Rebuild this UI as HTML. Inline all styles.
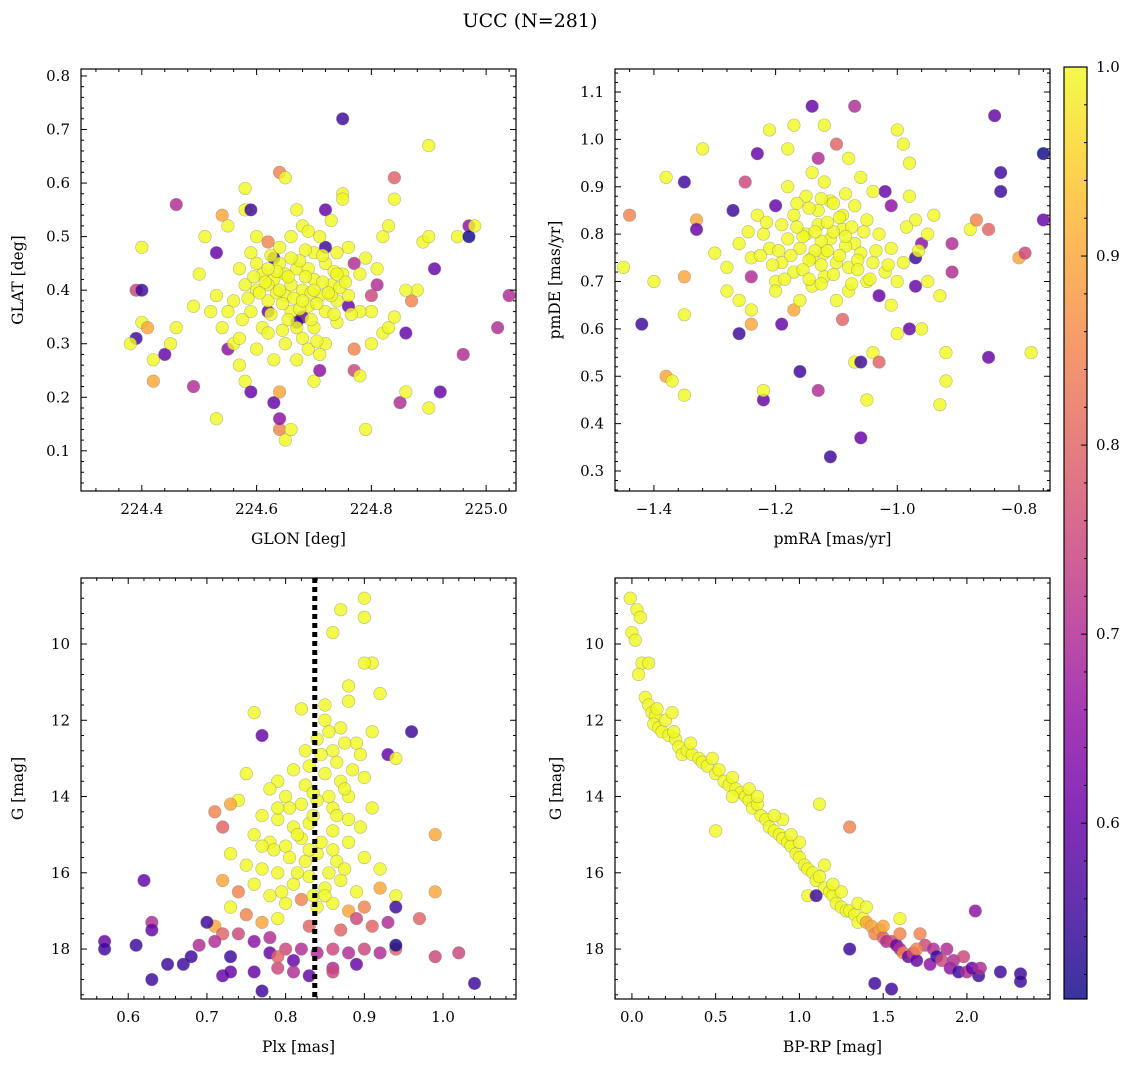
<!DOCTYPE html>
<html><head><meta charset="utf-8">
<style>
html,body{margin:0;padding:0;background:#fff;}
svg{display:block;font-family:"DejaVu Serif","Liberation Serif",serif;}
</style></head>
<body>
<svg id="chart" width="1136" height="1067" viewBox="0 0 1136 1067" xmlns="http://www.w3.org/2000/svg">
<text x="530" y="27" font-size="19" text-anchor="middle">UCC (N=281)</text>
</svg>
<script>
// ---- Panel 1: GLON vs GLAT ----
const glon = [224.75,224.90,224.40,224.39,224.40,224.39,224.38,224.40,224.41,224.42,224.42,224.44,224.45,224.46,224.46,224.49,224.50,224.51,224.49,224.53,224.53,224.54,224.55,224.55,224.56,224.57,224.58,224.59,224.58,224.58,224.59,224.60,224.62,224.63,224.64,224.64,224.65,224.66,224.64,224.65,224.67,224.64,224.70,224.71,224.72,224.73,224.75,224.75,224.77,224.77,224.78,224.79,224.80,224.82,224.83,224.84,224.84,224.85,224.86,224.86,224.87,224.88,224.89,224.90,224.91,224.92,224.90,224.95,224.97,224.97,224.98,225.02,225.04,224.96,224.80,224.81,224.76,224.77,224.72,224.68,224.62,224.63,224.67,
224.60,224.61,224.62,224.63,224.64,224.65,224.66,224.67,224.68,224.69,224.70,224.71,224.72,224.73,224.74,224.75,224.66,224.67,224.68,224.70,224.72,224.74,224.76,224.78,224.61,224.59,224.58,224.57,224.56,224.55,224.54,224.52,224.53,224.64,224.66,224.68,224.70,224.72,224.74,224.76,224.78,224.79,224.81,224.82,224.83,224.80,224.84,224.86,224.65,224.63,224.67,224.69,224.71,224.62,224.60,224.69,224.71,224.73,224.65,224.62,
224.605,224.615,224.625,224.635,224.645,224.655,224.665,224.675,224.685,224.695,224.705,224.715,224.725,224.735,224.745,224.655,224.675,224.695,224.715,224.735,224.595,224.585,224.575,224.625,224.645,224.685,224.705,224.755,224.765,224.635,224.66,224.68,224.70,224.64,224.62,224.74,224.57,224.60,224.59,224.69];
const glat = [0.72,0.67,0.48,0.40,0.40,0.31,0.30,0.34,0.33,0.27,0.23,0.28,0.30,0.33,0.56,0.22,0.43,0.50,0.37,0.16,0.47,0.54,0.52,0.29,0.30,0.26,0.23,0.21,0.55,0.59,0.55,0.50,0.49,0.19,0.14,0.16,0.12,0.14,0.62,0.61,0.55,0.21,0.23,0.25,0.55,0.53,0.58,0.57,0.29,0.25,0.24,0.14,0.36,0.32,0.33,0.61,0.57,0.19,0.32,0.21,0.38,0.40,0.49,0.18,0.44,0.21,0.50,0.50,0.52,0.50,0.52,0.33,0.39,0.28,0.39,0.41,0.37,0.45,0.48,0.35,0.36,0.46,0.34,
0.40,0.43,0.38,0.42,0.45,0.39,0.41,0.44,0.40,0.37,0.42,0.39,0.36,0.41,0.38,0.43,0.36,0.33,0.31,0.33,0.30,0.34,0.39,0.36,0.33,0.36,0.41,0.44,0.38,0.36,0.33,0.36,0.39,0.48,0.50,0.52,0.47,0.45,0.47,0.48,0.43,0.46,0.44,0.50,0.52,0.30,0.35,0.40,0.30,0.27,0.27,0.29,0.28,0.32,0.45,0.44,0.50,0.39,0.43,0.41,
0.395,0.415,0.355,0.395,0.375,0.425,0.385,0.365,0.425,0.395,0.375,0.415,0.395,0.355,0.405,0.345,0.455,0.345,0.465,0.435,0.425,0.385,0.345,0.465,0.325,0.475,0.305,0.415,0.355,0.435,0.46,0.38,0.40,0.40,0.44,0.43,0.31,0.29,0.47,0.51];
const prob1 = [0.55,1,1,0.75,0.55,0.55,1,1,0.9,1,0.9,0.6,1,1,0.7,0.7,1,1,1,1,0.6,0.9,1,0.65,1,1,1,0.6,1,1,0.55,1,0.85,0.6,0.85,0.65,1,1,0.85,1,1,0.9,1,0.65,0.6,1,1,1,0.85,0.75,1,1,1,1,1,0.8,1,0.7,0.6,1,0.85,1,1,1,0.6,0.6,1,1,0.65,0.5,1,0.7,0.7,0.7,0.75,0.7,0.6,0.7,0.55,0.6,0.6,0.55,0.55,
1,1,1,1,1,1,1,1,1,1,1,1,1,1,1,1,1,1,1,1,1,1,1,1,1,1,1,1,1,1,1,1,1,1,1,1,1,1,1,1,1,1,1,1,1,1,1,1,1,1,1,1,1,1,1,1,1,1,1,1,
1,1,1,1,1,1,1,1,1,1,1,1,1,1,1,1,1,1,1,1,1,1,1,1,1,1,1,1,1,1,1,1,1,1,1,1,1,1,1,1];

// ---- Panel 2: pmRA vs pmDE ----
const pmra = [-1.45,-1.44,-1.42,-1.40,-1.38,-1.38,-1.37,-1.35,-1.35,-1.35,-1.35,-1.33,-1.33,-1.32,-1.28,-1.27,-1.26,-1.25,-1.24,-1.24,-1.24,-1.23,-1.22,-1.22,-1.21,-1.20,-1.19,-1.18,-1.17,-1.16,-1.14,-1.13,-1.13,-1.12,-1.11,-1.10,-1.08,-1.07,-1.06,-1.07,-1.06,-1.05,-1.04,-1.03,-1.02,-1.00,-0.99,-0.98,-0.98,-0.97,-0.97,-0.96,-0.93,-0.92,-0.92,-0.91,-0.91,-0.88,-0.87,-0.85,-0.85,-0.84,-0.83,-0.83,-0.80,-0.79,-0.78,-0.76,-0.76,-1.03,-1.09,-1.00,-0.96,-1.17,-1.20,-1.01,
-1.15,-1.13,-1.11,-1.09,-1.07,-1.12,-1.14,-1.16,-1.18,-1.10,-1.08,-1.06,-1.04,-1.02,-1.05,-1.12,-1.14,-1.17,-1.19,-1.21,-1.13,-1.11,-1.09,-1.15,-1.17,-1.19,-1.22,-1.07,-1.05,-1.03,-1.01,-0.99,-1.00,-1.10,-1.08,-1.16,-1.20,-1.24,-1.26,-1.23,-1.04,-1.06,-1.12,-1.14,-0.97,-0.95,-0.98,-1.28,-1.26,-1.30,-1.18,-0.95,-0.93,-0.94,-1.01,
-1.125,-1.105,-1.085,-1.135,-1.155,-1.115,-1.095,-1.075,-1.145,-1.165,-1.125,-1.105,-1.085,-1.065,-1.145,-1.175,-1.195,-1.135,-1.115,-1.095,-1.055,-1.035,-1.155,-1.125,-1.185,-1.205,-1.105,-1.085,-1.125,-1.065,-1.045,-1.015,-1.225,-1.165,-1.145,-1.075,-1.215,-1.245,-0.965,-0.985];
const pmde = [0.73,0.84,0.61,0.70,0.92,0.50,0.49,0.91,0.46,0.63,0.71,0.83,0.81,0.98,0.73,0.85,0.59,0.91,0.71,0.64,0.61,0.97,0.45,0.47,1.02,0.86,0.61,0.98,1.03,0.51,1.07,0.96,0.47,1.03,0.33,0.99,0.96,1.07,0.37,0.53,0.53,0.45,0.55,0.67,0.89,1.02,0.99,0.95,0.60,0.69,0.75,0.78,0.44,0.49,0.55,0.72,0.78,0.81,0.83,0.81,0.54,1.05,0.93,0.89,0.75,0.76,0.55,0.97,0.83,0.53,0.62,0.59,0.60,0.64,0.70,0.86,
0.80,0.82,0.79,0.81,0.78,0.76,0.75,0.77,0.79,0.74,0.73,0.76,0.74,0.72,0.70,0.71,0.69,0.72,0.74,0.77,0.85,0.87,0.84,0.88,0.84,0.82,0.80,0.86,0.83,0.80,0.77,0.74,0.70,0.66,0.68,0.66,0.68,0.75,0.78,0.84,0.89,0.92,0.91,0.93,0.83,0.80,0.88,0.68,0.66,0.76,0.90,0.70,0.67,0.84,0.65,
0.785,0.805,0.775,0.765,0.795,0.825,0.755,0.815,0.745,0.815,0.735,0.715,0.795,0.745,0.855,0.755,0.765,0.805,0.765,0.835,0.805,0.765,0.725,0.695,0.705,0.735,0.865,0.885,0.875,0.725,0.705,0.735,0.755,0.865,0.705,0.695,0.825,0.805,0.765,0.815];
const prob2 = [1,0.85,0.55,1,1,0.9,1,0.55,1,1,0.9,0.9,0.6,1,1,0.55,0.55,0.75,0.7,1,0.9,0.6,0.6,1,1,0.6,0.6,1,1,0.55,0.6,0.7,0.7,1,0.55,0.8,1,0.7,0.6,1,0.55,1,1,0.6,0.6,1,1,1,0.6,0.6,0.55,0.65,1,1,1,0.7,0.7,1,0.85,0.8,0.6,0.6,0.55,0.55,0.9,0.75,1,0.5,0.6,0.8,0.8,1,1,0.9,1,0.65,
1,1,1,1,1,1,1,1,1,1,1,1,1,1,1,1,1,1,1,1,1,1,1,1,1,1,1,1,1,1,1,1,1,1,1,1,1,1,1,1,1,1,1,1,1,1,1,1,1,1,1,1,1,1,1,
1,1,1,1,1,1,1,1,1,1,1,1,1,1,1,1,1,1,1,1,1,1,1,1,1,1,1,1,1,1,1,1,1,1,1,1,1,1,1,1];

// ---- Panel 3: Plx vs G ----
const plx = [0.9,0.87,0.9,0.86,0.91,0.9,0.88,0.92,0.88,0.82,0.76,0.85,0.77,0.91,0.96,0.93,0.94,0.75,0.9,0.85,0.87,0.84,0.86,0.89,0.83,0.81,0.85,0.87,0.79,0.78,0.80,0.82,0.84,0.86,0.88,0.74,0.73,0.71,0.72,0.77,0.79,0.81,0.83,0.86,0.88,0.91,0.76,0.78,0.80,0.82,0.84,0.86,0.88,0.90,0.92,0.99,0.73,0.75,0.77,0.79,0.81,0.83,0.85,0.87,0.89,0.72,0.74,0.76,0.78,0.80,0.82,0.84,0.86,0.88,0.90,0.92,0.94,0.94,0.99,0.73,0.75,0.77,0.79,0.83,0.87,0.89,0.91,0.93,0.97,0.71,0.70,0.72,0.74,0.76,0.78,0.80,0.82,0.84,0.86,0.88,0.90,0.92,0.94,0.94,0.99,1.02,1.04,0.57,0.57,0.61,0.63,0.63,0.62,0.63,0.65,0.67,0.68,0.69,0.71,0.72,0.73,0.73,0.76,0.77,0.78,0.79,0.81,0.83,0.86,0.86,0.89,0.79,0.81,
0.845,0.865,0.825,0.805,0.835,0.855,0.875,0.815,0.845,0.865,0.825,0.805,0.785,0.855,0.875,0.835,0.795,0.815,0.895,0.865,0.885,0.825,0.855,0.875,0.895,0.835,0.79,0.77,0.83,0.85];
const gmag3 = [8.8,9.1,9.3,9.7,10.5,10.5,11.1,11.3,11.5,11.7,11.8,11.6,12.4,12.3,12.3,12.9,13.0,13.4,13.5,12.0,12.2,12.5,12.8,12.6,13.2,13.3,13.4,13.6,13.6,13.8,14.0,14.2,14.1,14.3,14.0,14.1,14.2,14.4,14.8,14.5,14.6,14.8,14.7,14.9,14.6,14.3,15.0,15.2,15.3,15.1,15.5,15.4,15.2,15.6,15.9,15.0,15.5,15.8,15.9,16.0,16.3,16.1,16.4,16.2,16.5,16.2,16.5,16.3,16.6,16.8,16.7,16.9,16.8,17.0,16.9,16.4,16.6,16.9,16.5,16.9,17.1,17.3,17.2,17.4,17.5,17.2,17.4,17.3,17.2,17.4,17.3,17.6,17.6,17.8,17.7,18.0,18.0,18.1,18.0,18.1,18.0,18.1,18.0,17.9,18.2,18.1,18.9,17.8,18.0,17.9,17.3,17.5,16.2,18.8,18.4,18.4,18.2,17.9,17.8,18.7,18.6,18.2,18.6,19.1,18.1,18.5,18.3,18.7,18.5,18.6,18.4,18.2,18.6,
12.9,13.1,13.7,14.3,14.5,14.0,13.8,15.0,15.2,15.7,15.7,15.6,15.4,16.0,15.9,16.6,16.5,16.0,14.8,14.5,13.3,12.8,12.3,12.6,12.9,13.9,14.3,15.3,15.4,16.6];
const prob3 = [1,1,1,1,1,1,1,1,1,1,1,1,0.6,1,0.55,0.6,1,1,1,1,1,1,1,1,1,1,1,1,1,1,1,1,1,1,1,1,0.9,0.85,0.8,1,1,1,1,1,1,1,1,1,1,1,1,1,1,1,1,0.9,1,1,1,1,1,1,1,1,1,0.9,0.85,1,1,1,0.85,1,1,0.9,0.85,0.9,1,0.55,0.9,1,0.85,0.9,1,0.8,0.8,0.75,0.8,0.7,0.8,0.9,0.55,0.8,0.75,0.65,0.7,0.75,0.7,0.7,0.75,0.7,0.75,0.7,0.8,0.5,0.75,0.75,0.55,0.6,0.55,0.55,0.7,0.6,0.6,0.55,0.55,0.55,0.55,0.7,0.7,0.6,0.6,0.55,0.6,0.55,0.6,0.75,0.6,0.6,0.7,0.75,0.6,0.8,0.7,
1,1,1,1,1,1,1,1,1,1,1,1,1,1,1,1,1,1,1,1,1,1,1,1,1,1,1,1,1,1];
const plxLine = 0.837;

// ---- Panel 4: BP-RP vs G ----
const bprp = [-0.01,0.03,0.05,0.0,0.02,0.06,0.1,0.04,0.08,0.1,0.12,0.14,0.13,0.16,0.18,0.2,0.22,0.24,0.26,0.28,0.3,0.33,0.36,0.4,0.42,0.45,0.48,0.5,0.52,0.55,0.58,0.6,0.62,0.65,0.68,0.7,0.72,0.75,0.77,0.8,0.82,0.85,0.88,0.9,0.93,0.95,0.98,1.0,1.03,1.05,1.08,1.1,1.12,1.15,1.18,1.2,1.22,1.25,1.28,1.3,1.33,1.35,1.38,1.4,1.43,1.45,1.48,1.5,1.52,1.55,1.58,1.6,1.62,1.65,1.68,1.7,1.72,1.75,1.78,1.8,1.82,1.85,1.88,1.9,1.92,1.95,1.98,2.0,2.03,2.05,2.07,2.08,2.2,2.32,2.32,1.3,1.45,1.55,1.3,0.5,1.12,0.9,0.6,0.7,1.0,1.15,1.25,1.05,1.35,1.4,0.85,0.75,1.6,1.5,1.2,0.95,0.35,0.25,0.15,1.6,1.1,1.7];
const gmag4 = [8.8,9.1,9.3,9.7,9.9,10.5,10.5,10.8,11.4,11.6,11.8,11.9,12.1,12.2,12.3,12.0,12.4,11.8,12.5,12.7,12.9,12.8,12.9,13.0,13.1,13.2,13.0,13.4,13.3,13.6,13.7,13.5,13.8,13.9,14.0,14.1,14.3,14.2,14.5,14.6,14.8,14.9,15.0,15.1,15.2,15.3,15.5,15.6,15.8,15.9,16.0,16.2,16.1,16.4,16.5,16.6,16.8,16.9,17.0,17.0,17.1,17.3,17.2,17.3,17.4,17.6,17.5,17.7,17.8,17.8,17.9,18.0,18.1,18.2,18.1,18.3,17.6,17.9,18.4,18.0,18.2,18.3,18.0,18.5,18.3,18.6,18.2,18.6,18.5,17.0,18.7,18.5,18.6,18.65,18.85,18.0,18.9,19.05,14.8,14.9,14.2,14.6,14.0,13.8,15.2,15.8,16.5,16.6,16.8,16.9,14.5,14.0,17.6,17.4,16.3,15.0,12.6,12.3,11.7,17.2,16.6,18.0];
const prob4 = [1,1,1,1,1,1,1,1,1,1,1,1,1,1,1,1,1,1,1,1,1,1,1,1,1,1,1,1,1,1,1,1,1,1,1,1,1,1,1,1,1,1,1,1,1,1,1,1,1,1,1,1,1,1,1,1,1,1,1,1,1,1,1,0.9,0.9,0.85,0.9,0.8,0.7,0.75,0.6,0.7,0.85,0.6,0.75,0.6,0.85,0.75,0.65,0.7,0.55,0.75,0.7,0.65,0.7,0.55,0.75,0.7,0.6,0.65,0.55,0.7,0.55,0.55,0.55,0.55,0.55,0.55,0.85,1,1,1,1,1,1,1,1,1,1,1,1,1,0.85,0.9,1,1,1,1,1,1,0.55,0.85];

// ---- Colorbar ----
const cbTicks = [0.6,0.7,0.8,0.9,1.0];
const cbMin = 0.507, cbMax = 1.0;

const NS = "http://www.w3.org/2000/svg";
const svg = document.getElementById('chart');
function mk(tag, attrs, parent){
  const e = document.createElementNS(NS, tag);
  for (const k in attrs) e.setAttribute(k, attrs[k]);
  (parent||svg).appendChild(e);
  return e;
}
const plasma = [[13,8,135],[65,4,157],[106,0,168],[143,13,164],[177,42,144],[204,71,120],[225,100,98],[242,132,75],[252,166,54],[252,206,37],[240,249,33]];
function cmap(t){
  t = Math.max(0, Math.min(1, t));
  const s = t*10, i = Math.min(9, Math.floor(s)), f = s - i;
  const a = plasma[i], b = plasma[i+1];
  return 'rgb(' + [0,1,2].map(j => Math.round(a[j] + (b[j]-a[j])*f)).join(',') + ')';
}
function colorOf(p){ return cmap((p - cbMin)/(cbMax - cbMin)); }

function panel(c){
  const g = mk('g', {});
  
  
  const sx = v => c.x0 + (v - c.xmin)/(c.xmax - c.xmin)*(c.x1 - c.x0);
  const sy = c.invert ? (v => c.y0 + (v - c.ymin)/(c.ymax - c.ymin)*(c.y1 - c.y0))
                      : (v => c.y1 - (v - c.ymin)/(c.ymax - c.ymin)*(c.y1 - c.y0));
  const pts = mk('g', {}, g);
  
  
  for (let i = 0; i < c.xs.length; i++){
    const pt = mk('circle', {cx: sx(c.xs[i]), cy: sy(c.ys[i]), r: 6.3, fill: colorOf(c.ps[i]), 'fill-opacity': 0.82, stroke: '#777', 'stroke-opacity': 0.5, 'stroke-width': 0.6}, pts);
    
    
  }
  if (c.vline !== undefined){
    const ln = mk('line', {x1: sx(c.vline), x2: sx(c.vline), y1: c.y0, y2: c.y1, stroke: '#000', 'stroke-width': 5, 'stroke-dasharray': '5,4'}, g);
    
    
  }
  const fr = mk('rect', {x: c.x0, y: c.y0, width: c.x1 - c.x0, height: c.y1 - c.y0, fill: 'none', stroke: '#000', 'stroke-width': 1.2}, g);
  
  
  const tk = mk('g', {stroke: '#000', 'stroke-width': 1}, g);
  
  
  const eps = 1e-9;
  const xmn = c.xstep/5, ymn = c.ystep/5;
  for (let v = Math.ceil(c.xmin/xmn - eps)*xmn; v <= c.xmax + eps; v += xmn){
    const isMaj = Math.abs(v/c.xstep - Math.round(v/c.xstep)) < 1e-6;
    const L = isMaj ? 6 : 3, X = sx(v);
    mk('line', {x1: X, x2: X, y1: c.y1, y2: c.y1 - L}, tk);
    mk('line', {x1: X, x2: X, y1: c.y0, y2: c.y0 + L}, tk);
  }
  for (let v = Math.ceil(c.ymin/ymn - eps)*ymn; v <= c.ymax + eps; v += ymn){
    const isMaj = Math.abs(v/c.ystep - Math.round(v/c.ystep)) < 1e-6;
    const L = isMaj ? 6 : 3, Y = sy(v);
    mk('line', {x1: c.x0, x2: c.x0 + L, y1: Y, y2: Y}, tk);
    mk('line', {x1: c.x1, x2: c.x1 - L, y1: Y, y2: Y}, tk);
  }
  c.xticks.forEach((v, i) => {
    const t = mk('text', {x: sx(v), y: c.y1 + 23, 'font-size': 15, 'text-anchor': 'middle'}, g);
    t.textContent = c.xtl[i];
    
    
  });
  c.yticks.forEach((v, i) => {
    const t = mk('text', {x: c.x0 - 11, y: sy(v) + 5, 'font-size': 15, 'text-anchor': 'end'}, g);
    t.textContent = c.ytl[i];
    
    
  });
  const xl = mk('text', {x: (c.x0 + c.x1)/2, y: c.y1 + 53, 'font-size': 15.5, 'text-anchor': 'middle'}, g);
  xl.textContent = c.xlabel;
  
  
  const ylx = c.x0 - c.ylOff;
  const yl = mk('text', {x: ylx, y: (c.y0 + c.y1)/2, 'font-size': 15.5, 'text-anchor': 'middle', transform: 'rotate(-90 ' + ylx + ' ' + ((c.y0 + c.y1)/2) + ')'}, g);
  yl.textContent = c.ylabel;
  
  
}

panel({name: 'glon-glat-panel', x0: 81, x1: 516, y0: 69, y1: 491, xmin: 224.294, xmax: 225.052, ymin: 0.025, ymax: 0.813,
  xstep: 0.2, ystep: 0.1, xs: glon, ys: glat, ps: prob1,
  xticks: [224.4,224.6,224.8,225.0], xtl: ['224.4','224.6','224.8','225.0'],
  yticks: [0.1,0.2,0.3,0.4,0.5,0.6,0.7,0.8], ytl: ['0.1','0.2','0.3','0.4','0.5','0.6','0.7','0.8'],
  xlabel: 'GLON [deg]', ylabel: 'GLAT [deg]', ylOff: 58});
panel({name: 'pm-panel', x0: 615, x1: 1050, y0: 69, y1: 491, xmin: -1.464, xmax: -0.749, ymin: 0.2578, ymax: 1.1486,
  xstep: 0.2, ystep: 0.1, xs: pmra, ys: pmde, ps: prob2,
  xticks: [-1.4,-1.2,-1.0,-0.8], xtl: ['\u22121.4','\u22121.2','\u22121.0','\u22120.8'],
  yticks: [0.3,0.4,0.5,0.6,0.7,0.8,0.9,1.0,1.1], ytl: ['0.3','0.4','0.5','0.6','0.7','0.8','0.9','1.0','1.1'],
  xlabel: 'pmRA [mas/yr]', ylabel: 'pmDE [mas/yr]', ylOff: 55});
panel({name: 'plx-g-panel', x0: 81, x1: 516, y0: 578, y1: 999, xmin: 0.540, xmax: 1.0927, ymin: 8.269, ymax: 19.31, invert: true,
  xstep: 0.1, ystep: 2, xs: plx, ys: gmag3, ps: prob3, vline: plxLine,
  xticks: [0.6,0.7,0.8,0.9,1.0], xtl: ['0.6','0.7','0.8','0.9','1.0'],
  yticks: [10,12,14,16,18], ytl: ['10','12','14','16','18'],
  xlabel: 'Plx [mas]', ylabel: 'G [mag]', ylOff: 58});
panel({name: 'cmd-panel', x0: 615, x1: 1050, y0: 578, y1: 999, xmin: -0.101, xmax: 2.496, ymin: 8.269, ymax: 19.31, invert: true,
  xstep: 0.5, ystep: 2, xs: bprp, ys: gmag4, ps: prob4,
  xticks: [0,0.5,1.0,1.5,2.0], xtl: ['0.0','0.5','1.0','1.5','2.0'],
  yticks: [10,12,14,16,18], ytl: ['10','12','14','16','18'],
  xlabel: 'BP-RP [mag]', ylabel: 'G [mag]', ylOff: 54});

(function(){
  const x0 = 1064, x1 = 1087, y0 = 67, y1 = 999;
  const g = mk('g', {});
  
  
  const defs = mk('defs', {}, g);
  const lg = mk('linearGradient', {id: 'cbgrad', x1: 0, y1: 1, x2: 0, y2: 0}, defs);
  for (let i = 0; i <= 10; i++){
    mk('stop', {offset: i/10, 'stop-color': cmap(i/10), 'stop-opacity': 0.82}, lg);
  }
  mk('rect', {x: x0, y: y0, width: x1 - x0, height: y1 - y0, fill: 'url(#cbgrad)', stroke: '#000', 'stroke-width': 1.2}, g);
  const sy = v => y1 - (v - cbMin)/(cbMax - cbMin)*(y1 - y0);
  for (let k = 26; k <= 50; k++){
    const v = k*0.02;
    const Y = sy(v);
    if (Y < y0 || Y > y1) continue;
    const maj = (k % 5 === 0);
    mk('line', {x1: x1, x2: x1 - (maj ? 6 : 3), y1: Y, y2: Y, stroke: '#000', 'stroke-width': 1}, g);
  }
  cbTicks.forEach(v => {
    const t = mk('text', {x: x1 + 9, y: sy(v) + 5, 'font-size': 15}, g);
    t.textContent = v.toFixed(1);
    
    
  });
})();
</script>
</body></html>
